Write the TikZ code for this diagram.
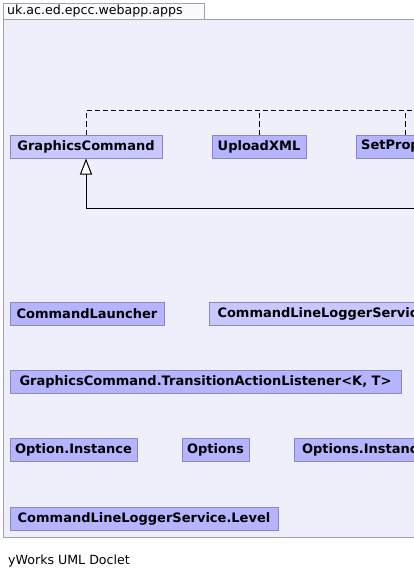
\documentclass[tikz,border=0pt]{standalone}
\usepackage{fontspec}
\setmainfont{DejaVu Sans}
\usetikzlibrary{arrows.meta}
\definecolor{framefill}{RGB}{239,239,252}
\definecolor{tabfill}{RGB}{250,250,255}
\definecolor{frameline}{RGB}{160,160,176}
\definecolor{boxdark}{RGB}{180,180,255}
\definecolor{boxlight}{RGB}{200,200,255}
\definecolor{boxline}{RGB}{136,136,190}
\begin{document}
\begin{tikzpicture}[x=1pt,y=-1pt,
  cls/.style={draw=boxline, fill=boxdark, line width=1pt,
    font=\bfseries\fontsize{13}{15}\selectfont,
    minimum height=23pt, inner sep=0pt},
  lightcls/.style={cls, fill=boxlight},
  cut/.style={anchor=west, align=left, text width=#1},
  realize/.style={draw=black, line width=1pt, dash pattern=on 5pt off 3pt},
  inh/.style={draw=black, line width=1pt, -{Triangle[open, length=16pt, width=12pt, line width=1pt, fill=white]}},
  plain/.style={font=\fontsize{12.6}{15}\selectfont, inner sep=0pt, anchor=base west}]
\useasboundingbox (0,0) rectangle (414,575);
\clip (0,0) rectangle (414,575);
\fill[white] (0,0) rectangle (414,575);
\draw[frameline, fill=framefill, line width=1pt] (3.5,19.5) rectangle (440,537.5);
\draw[frameline, fill=tabfill, line width=1pt] (3.5,3.5) rectangle (204.5,19.5);
\node[plain] (title) at (7,15) {uk.ac.ed.epcc.webapp.apps};
\node[plain] (footer) at (8,564) {yWorks UML Doclet};

% row 1
\node[lightcls, minimum width=152pt] (gc) at (86,146.5) {GraphicsCommand};
\node[cls, minimum width=94pt] (ux) at (259,146.5) {UploadXML};
\node[cls, cut=88.6pt, inner xsep=4.7pt] (sp) at (356,146.5) {SetProp};

% row 2
\node[cls, minimum width=154pt] (cl) at (87,313.5) {CommandLauncher};
\node[lightcls, cut=300pt, inner xsep=8pt] (clls) at (209,313.5) {CommandLineLoggerServic};

% row 3
\node[cls, minimum width=391pt] (tal) at (205.5,381.5) {GraphicsCommand.TransitionActionListener<K, T>};

% row 4
\node[cls, minimum width=127pt] (oi) at (73.5,450) {Option.Instance};
\node[cls, minimum width=67pt] (op) at (215.5,450) {Options};
\node[cls, cut=200pt, inner xsep=7.5pt] (osi) at (294,450) {Options.Instanc};

% row 5
\node[cls, minimum width=268pt] (lvl) at (144,518.5) {CommandLineLoggerService.Level};

% connectors
\coordinate (busR) at (440,111);
\coordinate (inhR) at (440,208);
\draw[realize] (gc.north) |- (busR);
\draw[realize] (ux.north) -- (ux.north |- busR);
\draw[realize] (sp.north) -- (sp.north |- busR);
\draw[inh] (inhR) -| (gc.south);
\end{tikzpicture}
\end{document}
